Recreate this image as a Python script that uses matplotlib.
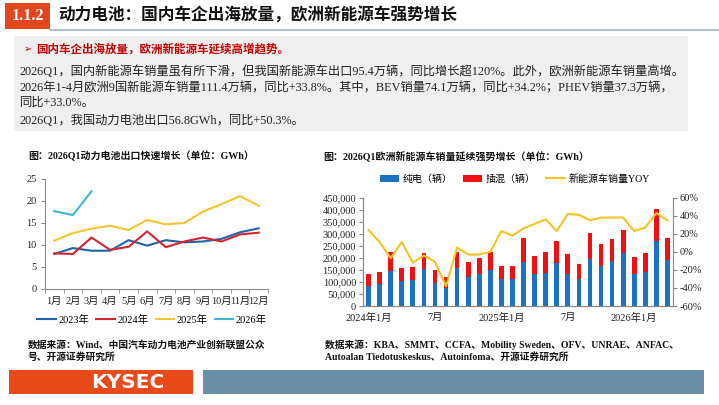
import matplotlib
matplotlib.use('Agg')
import matplotlib.pyplot as plt
from matplotlib.patches import Rectangle
from matplotlib.lines import Line2D
from matplotlib.ticker import FuncFormatter, MultipleLocator
import numpy as np

# ---------------- data ----------------
months = ['1月', '2月', '3月', '4月', '5月', '6月', '7月', '8月', '9月', '10月', '11月', '12月']
exp_2023 = [7.95, 9.3, 8.7, 8.7, 11.1, 9.85, 11.1, 10.6, 10.8, 11.4, 12.9, 13.8]
exp_2024 = [8.1, 7.95, 11.7, 8.9, 9.6, 13.1, 9.5, 10.8, 11.7, 10.8, 12.4, 12.8]
exp_2025 = [11.0, 12.7, 13.7, 14.4, 13.4, 15.7, 14.7, 15.0, 17.6, 19.3, 21.1, 18.9]
exp_2026 = [17.7, 16.8, 22.2]
year_labels = ['2023年', '2024年', '2025年', '2026年']

eu_months = ['2024-01', '2024-02', '2024-03', '2024-04', '2024-05', '2024-06', '2024-07',
             '2024-08', '2024-09', '2024-10', '2024-11', '2024-12', '2025-01', '2025-02',
             '2025-03', '2025-04', '2025-05', '2025-06', '2025-07', '2025-08', '2025-09',
             '2025-10', '2025-11', '2025-12', '2026-01', '2026-02', '2026-03', '2026-04']
bev = [83000, 91000, 145000, 105000, 108000, 154000, 97000, 73000, 159000, 119000,
       132000, 150000, 114000, 114000, 184000, 133000, 139000, 177000, 132000, 112000,
       195000, 165000, 188000, 219000, 133000, 143000, 270000, 191000]
phev = [51000, 52000, 78000, 54000, 55000, 66000, 54000, 49000, 67000, 65000,
        69000, 76000, 52000, 54000, 97000, 75000, 85000, 94000, 83000, 61000,
        110000, 91000, 90000, 97000, 72000, 76000, 132000, 93000]
yoy = [24, 11, -7, 11, -12, -4, -11, -38, 5, -3, -3, 0, 23, 18, 26, 31, 36, 23,
       42, 41, 35, 38, 38, 38, 23, 27, 43, 35]
eu_tick_pos = [0, 6, 12, 18, 24]
eu_tick_labels = ['2024年1月', '7月', '2025年1月', '7月', '2026年1月']
eu_legend = ['纯电（辆）', '插混（辆）', '新能源车销量YOY']

# ---------------- figure ----------------
W, H = 719, 405
fig = plt.figure(figsize=(W / 100, H / 100), dpi=100)
fig.patch.set_facecolor('white')

SERIF = ['Liberation Serif', 'Noto Sans CJK SC', 'DejaVu Sans']
CJK = ['Noto Sans CJK SC', 'DejaVu Sans']


def fx(x):
    return x / W


def fy(y):
    return 1 - y / H


def axes_px(x0, y0, x1, y1):
    return fig.add_axes([x0 / W, 1 - y1 / H, (x1 - x0) / W, (y1 - y0) / H])


def rect(x0, y0, x1, y1, color, z=0):
    fig.patches.append(Rectangle((fx(x0), fy(y1)), (x1 - x0) / W, (y1 - y0) / H,
                                 transform=fig.transFigure, facecolor=color,
                                 edgecolor='none', zorder=z))


def text(x, y, s, size, family=SERIF, weight='normal', color='#222222', ha='left', va='center'):
    fig.text(fx(x), fy(y), s, fontsize=size, family=family, weight=weight,
             color=color, ha=ha, va=va)


# ---------------- header ----------------
rect(5, 3, 50, 29, '#e2461c')
text(27.5, 16, '1.1.2', 11.5, family=['Liberation Serif'], weight='bold', color='white', ha='center')
text(58, 16, '动力电池：国内车企出海放量，欧洲新能源车强势增长', 12, family=CJK, weight='bold', color='#111111')
fig.lines.append(Line2D([fx(50), fx(719)], [fy(30), fy(30)], transform=fig.transFigure,
                        color='#9fb3c3', lw=1.2))

# gray box
rect(14, 36, 688, 131, '#efefef')
text(24, 49, '➢', 7, family=['DejaVu Sans'], color='#c00000')
text(36, 49, '国内车企出海放量，欧洲新能源车延续高增趋势。', 8.3, family=CJK, weight='bold', color='#c00000')
text(20, 72, '2026Q1，国内新能源车销量虽有所下滑，但我国新能源车出口95.4万辆，同比增长超120%。此外，欧洲新能源车销量高增。', 8.85)
text(20, 88, '2026年1-4月欧洲9国新能源车销量111.4万辆，同比+33.8%。其中，BEV销量74.1万辆，同比+34.2%；PHEV销量37.3万辆，', 8.85)
text(20, 103, '同比+33.0%。', 8.85)
text(20, 121, '2026Q1，我国动力电池出口56.8GWh，同比+50.3%。', 8.85)

# ---------------- left chart ----------------
text(28, 156, '图：2026Q1动力电池出口快速增长（单位：GWh）', 7.2, weight='bold', color='#111111')
ax1 = axes_px(45, 179, 268, 289)
x = np.arange(len(months))
c23, c24, c25, c26 = '#1f63a8', '#d9232e', '#f2c532', '#3cb6d6'
l1, = ax1.plot(x, exp_2023, color=c23, lw=1.5)
l2, = ax1.plot(x, exp_2024, color=c24, lw=1.5)
l3, = ax1.plot(x, exp_2025, color=c25, lw=1.5)
l4, = ax1.plot(np.arange(len(exp_2026)), exp_2026, color=c26, lw=1.5)
ax1.set_xlim(-0.5, 11.5)
ax1.set_ylim(0, 25)
ax1.yaxis.set_major_locator(MultipleLocator(5))
ax1.set_xticks(x)
ax1.set_xticklabels(months)
ax1.set_xticks(np.arange(-0.5, 12, 1), minor=True)
ax1.tick_params(axis='x', which='major', length=0, pad=6)
ax1.tick_params(axis='x', which='minor', length=3, color='#888888')
ax1.tick_params(axis='y', length=3, color='#888888', pad=3)
for sp in ['top', 'right']:
    ax1.spines[sp].set_visible(False)
for sp in ['left', 'bottom']:
    ax1.spines[sp].set_color('#888888')
    ax1.spines[sp].set_linewidth(0.8)
for lab in ax1.get_xticklabels() + ax1.get_yticklabels():
    lab.set_fontfamily(SERIF)
    lab.set_fontsize(7.5)
    lab.set_color('#222222')
fig.legend([l1, l2, l3, l4], year_labels, loc='center', bbox_to_anchor=(fx(152), fy(320)),
           ncol=4, frameon=False, handlelength=1.75, columnspacing=0.7, handletextpad=0.25,
           prop={'family': SERIF, 'size': 7.5}, borderaxespad=0, borderpad=0)

# ---------------- right chart ----------------
text(323, 156, '图：2026Q1欧洲新能源车销量延续强势增长（单位：GWh）', 7.2, weight='bold', color='#111111')
ax2 = axes_px(363, 197.7, 673, 306)
xe = np.arange(len(eu_months))
b1 = ax2.bar(xe, bev, width=0.42, color='#1a72c0', zorder=2)
b2 = ax2.bar(xe, phev, bottom=bev, width=0.42, color='#ee1111', zorder=2)
ax2.set_xlim(-0.5, len(eu_months) - 0.5)
ax2.set_ylim(0, 450000)
ax2.yaxis.set_major_locator(MultipleLocator(50000))
ax2.yaxis.set_major_formatter(FuncFormatter(lambda v, p: f'{int(v):,}'))
ax2.set_xticks(eu_tick_pos)
ax2.set_xticklabels(eu_tick_labels)
ax2.tick_params(axis='x', length=0, pad=5)
ax2.tick_params(axis='y', length=3, color='#888888', pad=2)
ax3 = ax2.twinx()
l5, = ax3.plot(xe, yoy, color='#f5c324', lw=1.5, zorder=3)
ax3.set_ylim(-60, 60)
ax3.yaxis.set_major_locator(MultipleLocator(20))
ax3.yaxis.set_major_formatter(FuncFormatter(lambda v, p: f'{int(v)}%'))
ax3.tick_params(axis='y', length=3, color='#888888', pad=2)
for a in (ax2, ax3):
    a.spines['top'].set_visible(False)
    for sp in ['left', 'right', 'bottom']:
        a.spines[sp].set_color('#888888')
        a.spines[sp].set_linewidth(0.8)
    for lab in a.get_xticklabels() + a.get_yticklabels():
        lab.set_fontfamily(SERIF)
        lab.set_fontsize(7.5)
        lab.set_color('#222222')
ax2.spines['right'].set_visible(False)
fig.legend([b1, b2, l5], eu_legend, loc='center', bbox_to_anchor=(fx(515), fy(179)),
           ncol=3, frameon=False, handlelength=1.9, columnspacing=1.1, handletextpad=0.3,
           prop={'family': SERIF, 'size': 7.2}, borderaxespad=0, borderpad=0)

# ---------------- sources ----------------
text(28, 345, '数据来源：Wind、中国汽车动力电池产业创新联盟公众', 7, weight='bold', color='#111111')
text(28, 357, '号、开源证券研究所', 7, weight='bold', color='#111111')
text(325, 345, '数据来源：KBA、SMMT、CCFA、Mobility Sweden、OFV、UNRAE、ANFAC、', 7, weight='bold', color='#111111')
text(325, 357, 'Autoalan Tiedotuskeskus、Autoinfoma、开源证券研究所', 7, weight='bold', color='#111111')

# ---------------- footer ----------------
rect(9, 370, 193, 394, '#e84a1a')
rect(203, 370, 704, 394, '#6a8fa6')
text(128, 382.5, 'KYSEC', 14.5, family=['DejaVu Sans'], weight='bold', color='white', ha='center')

fig.savefig('out.png', dpi=100)
